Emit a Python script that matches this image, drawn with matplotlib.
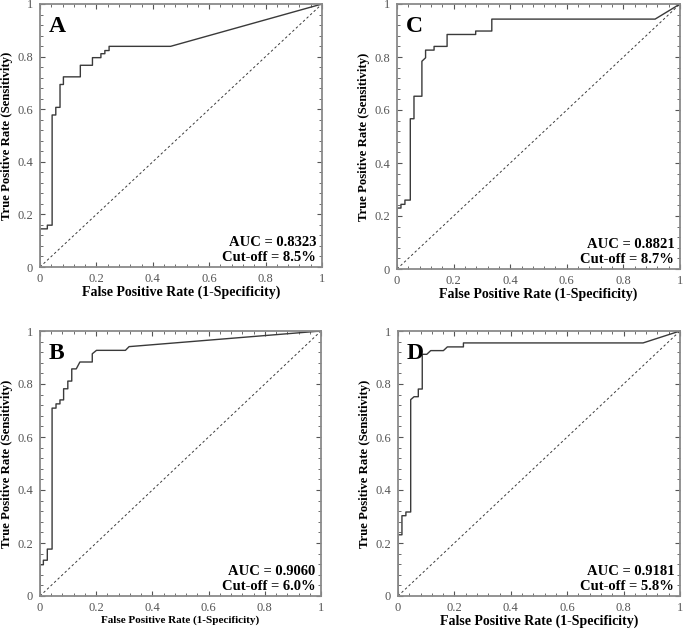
import matplotlib
matplotlib.use('Agg')
import matplotlib.pyplot as plt
from matplotlib.ticker import MultipleLocator

plt.rcParams['font.family'] = ['Liberation Serif', 'DejaVu Serif']

# ROC 曲线数据
fpr_a = [0, 0, 0.026, 0.026, 0.043, 0.043, 0.056, 0.056, 0.071, 0.071, 0.083, 0.083,
         0.143, 0.143, 0.186, 0.186, 0.216, 0.216, 0.230, 0.230, 0.245, 0.245, 0.463, 1.0]
tpr_a = [0, 0.145, 0.145, 0.159, 0.159, 0.578, 0.578, 0.607, 0.607, 0.694, 0.694, 0.723,
         0.723, 0.767, 0.767, 0.796, 0.796, 0.811, 0.811, 0.823, 0.823, 0.839, 0.839, 1.0]

fpr_b = [0, 0, 0.012, 0.012, 0.026, 0.026, 0.043, 0.043, 0.057, 0.057, 0.071, 0.071,
         0.084, 0.084, 0.099, 0.099, 0.113, 0.113, 0.129, 0.142, 0.186, 0.186, 0.201,
         0.304, 0.317, 1.0]
tpr_b = [0, 0.118, 0.118, 0.135, 0.135, 0.177, 0.177, 0.709, 0.709, 0.725, 0.725, 0.740,
         0.740, 0.782, 0.782, 0.811, 0.811, 0.857, 0.857, 0.883, 0.883, 0.914, 0.927,
         0.927, 0.941, 1.0]

fpr_c = [0, 0, 0.014, 0.014, 0.028, 0.028, 0.047, 0.047, 0.060, 0.060, 0.088, 0.088,
         0.101, 0.101, 0.131, 0.131, 0.177, 0.177, 0.278, 0.278, 0.335, 0.335, 0.912, 1.0]
tpr_c = [0, 0.230, 0.230, 0.244, 0.244, 0.260, 0.260, 0.567, 0.567, 0.652, 0.652, 0.784,
         0.797, 0.826, 0.826, 0.840, 0.840, 0.885, 0.885, 0.898, 0.898, 0.943, 0.943, 1.0]

fpr_d = [0, 0, 0.014, 0.014, 0.028, 0.028, 0.045, 0.045, 0.057, 0.072, 0.072, 0.086,
         0.086, 0.102, 0.116, 0.161, 0.175, 0.232, 0.232, 0.869, 1.0]
tpr_d = [0, 0.231, 0.231, 0.303, 0.303, 0.317, 0.317, 0.741, 0.752, 0.752, 0.781, 0.781,
         0.912, 0.912, 0.926, 0.926, 0.940, 0.940, 0.955, 0.955, 1.0]

panels = ['A', 'B', 'C', 'D']
auc_values = ['0.8323', '0.9060', '0.8821', '0.9181']
cutoffs = ['8.5%', '6.0%', '8.7%', '5.8%']

W, H = 685, 630
# 每个子图的像素位置: left, top, right, bottom
boxes = {
    'A': (40, 4, 322, 267),
    'B': (40, 331, 321, 596),
    'C': (397, 4, 680, 269),
    'D': (398, 331, 680, 596),
}
curves = {'A': (fpr_a, tpr_a), 'B': (fpr_b, tpr_b), 'C': (fpr_c, tpr_c), 'D': (fpr_d, tpr_d)}

fig = plt.figure(figsize=(W / 100, H / 100), dpi=100)

for name, auc, cut in zip(panels, auc_values, cutoffs):
    l, t, r, b = boxes[name]
    ax = fig.add_axes([l / W, 1 - b / H, (r - l) / W, (b - t) / H])
    fpr, tpr = curves[name]
    ax.plot(fpr, tpr, color='#3a3a3a', lw=1.0)
    ax.plot([0, 1], [0, 1], color='#3a3a3a', lw=0.7, ls=(0, (2.5, 2.5)))
    ax.set_xlim(0, 1)
    ax.set_ylim(0, 1)

    ax.xaxis.set_minor_locator(MultipleLocator(0.04))
    ax.yaxis.set_minor_locator(MultipleLocator(0.04))
    ax.set_xticks([0, 0.2, 0.4, 0.6, 0.8, 1.0])
    ax.set_xticklabels(['0', '0.2', '0.4', '0.6', '0.8', '1'])
    ax.set_yticks([0, 0.2, 0.4, 0.6, 0.8, 1.0])
    ax.set_yticklabels(['0', '0.2', '0.4', '0.6', '0.8', '1'])
    ax.tick_params(which='both', direction='in', top=True, right=True,
                   colors='#555555', labelsize=9, pad=5)
    ax.tick_params(axis='x', which='both', pad=4)
    ax.tick_params(which='major', length=3.5, width=0.8)
    ax.tick_params(which='minor', length=2, width=0.6)
    for s in ax.spines.values():
        s.set_color('#8a8a8a')
        s.set_linewidth(1.3)

    xl_size = 8 if name == 'B' else 10
    ax.set_xlabel('False Positive Rate (1-Specificity)', fontsize=xl_size,
                  fontweight='bold', labelpad=1)
    ax.set_ylabel('True Positive Rate (Sensitivity)', fontsize=9.2,
                  fontweight='bold', labelpad=3)

    ax.text(0.03, 0.955, name, transform=ax.transAxes, fontsize=17,
            fontweight='bold', va='top', ha='left')
    ax.text(0.98, 0.012, f'AUC = {auc}\nCut-off = {cut}', transform=ax.transAxes,
            fontsize=10.5, fontweight='bold', va='bottom', ha='right',
            linespacing=1.15)

fig.savefig('out.png', dpi=100)
